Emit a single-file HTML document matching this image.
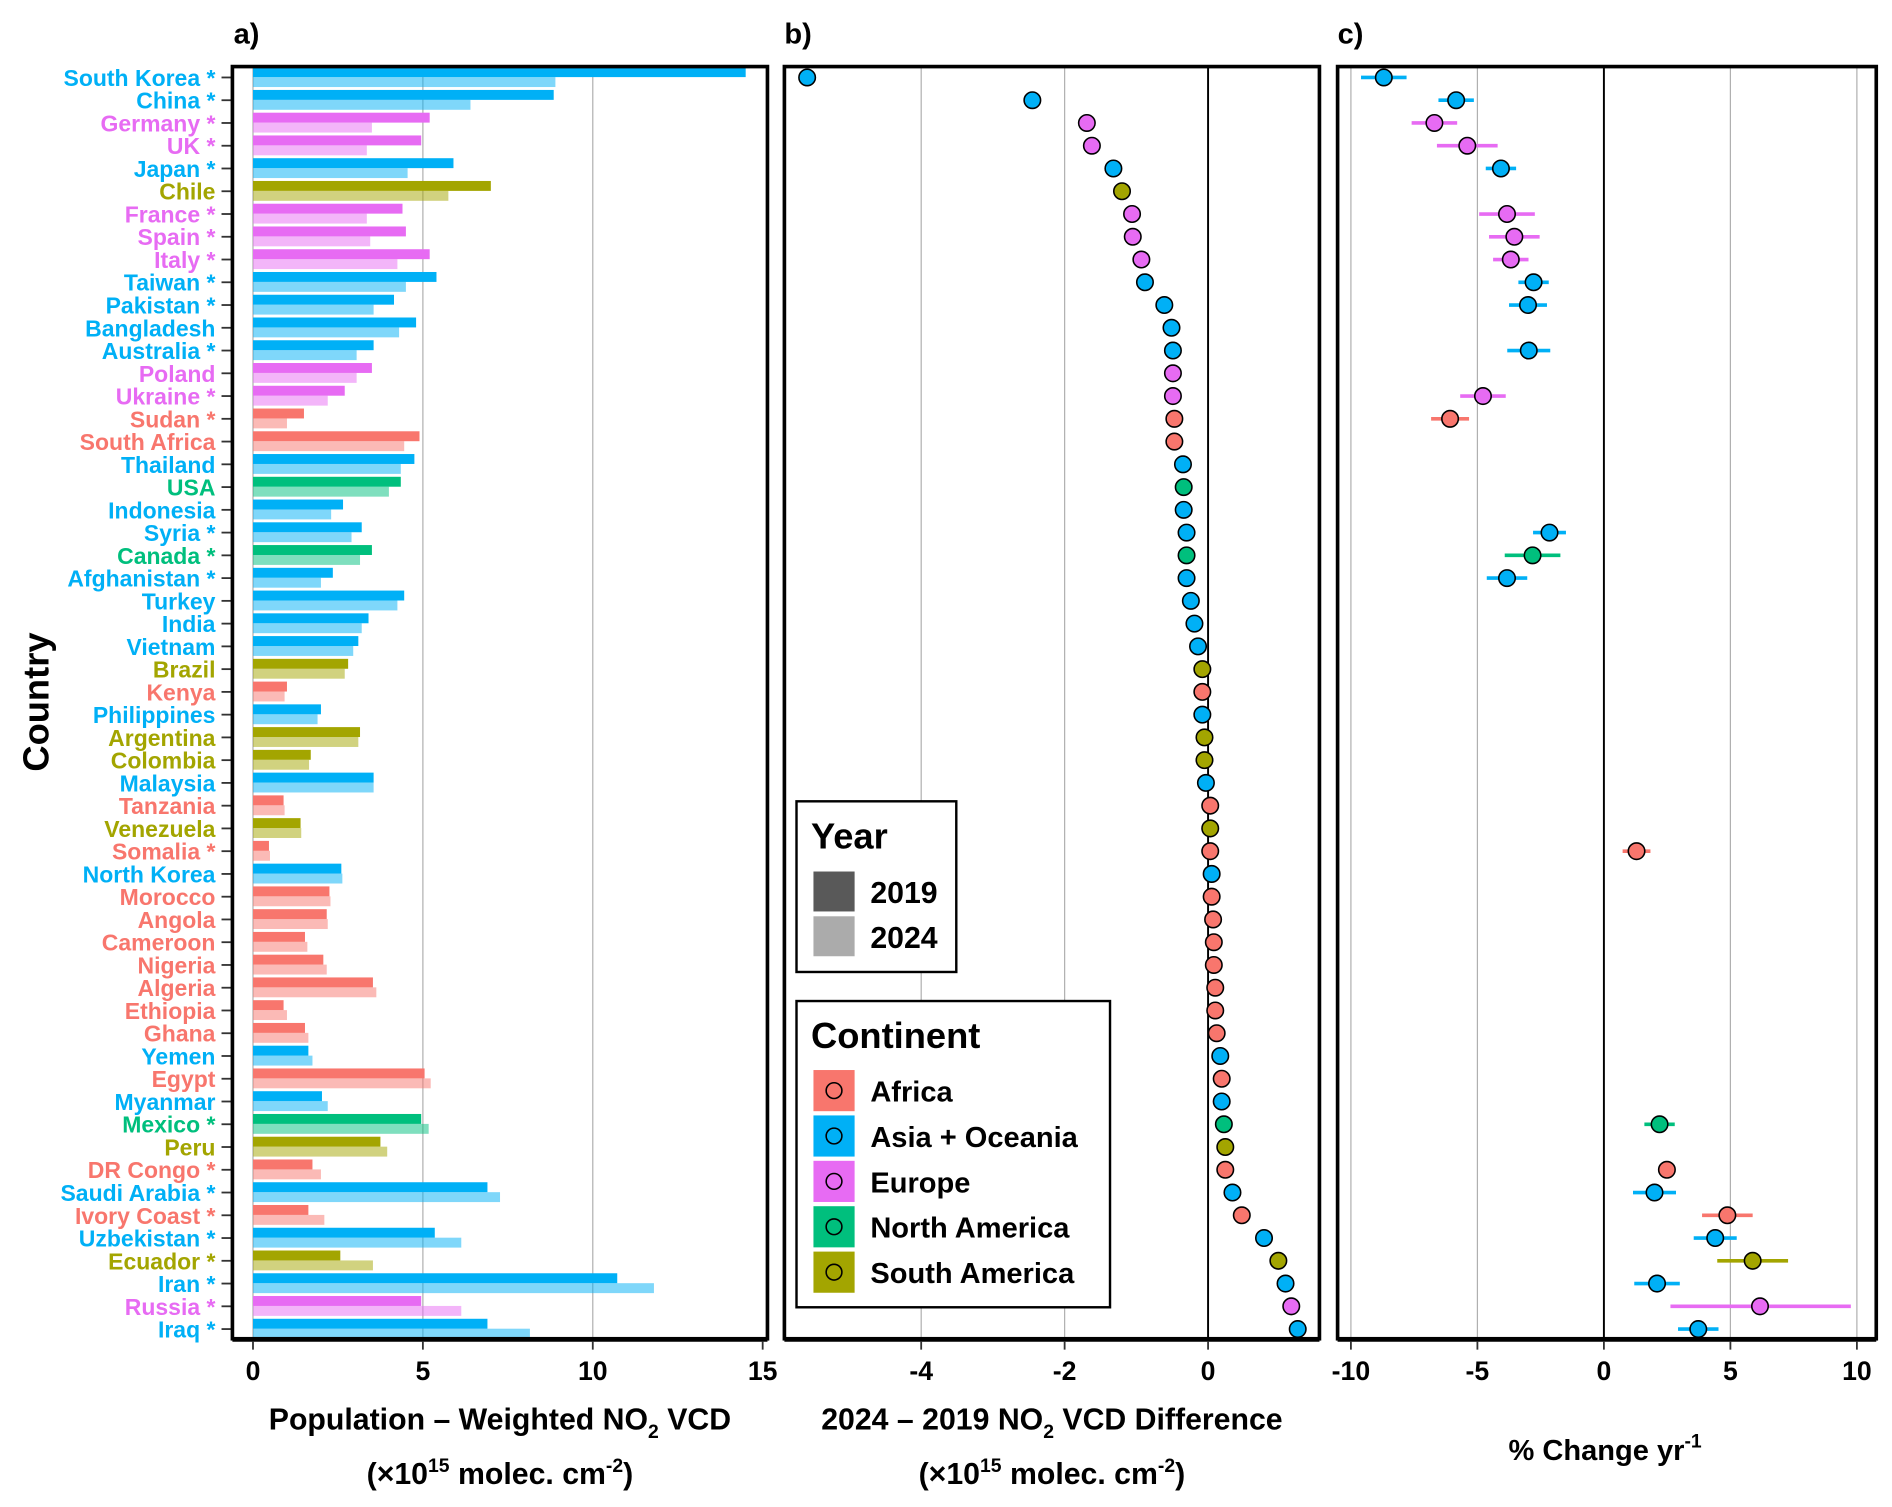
<!DOCTYPE html>
<html><head><meta charset="utf-8">
<style>
html,body{margin:0;padding:0;background:#fff;}
svg{display:block;font-family:"Liberation Sans",Arial,sans-serif;}
</style></head>
<body>
<svg id="chart" width="1892" height="1507" viewBox="0 0 1563 1245" preserveAspectRatio="none" xmlns="http://www.w3.org/2000/svg">
</svg>
<script>
const countries=["South Korea *","China *","Germany *","UK *","Japan *","Chile","France *","Spain *","Italy *","Taiwan *","Pakistan *","Bangladesh","Australia *","Poland","Ukraine *","Sudan *","South Africa","Thailand","USA","Indonesia","Syria *","Canada *","Afghanistan *","Turkey","India","Vietnam","Brazil","Kenya","Philippines","Argentina","Colombia","Malaysia","Tanzania","Venezuela","Somalia *","North Korea","Morocco","Angola","Cameroon","Nigeria","Algeria","Ethiopia","Ghana","Yemen","Egypt","Myanmar","Mexico *","Peru","DR Congo *","Saudi Arabia *","Ivory Coast *","Uzbekistan *","Ecuador *","Iran *","Russia *","Iraq *"];
const continents=["AS","AS","EU","EU","AS","SA","EU","EU","EU","AS","AS","AS","AS","EU","EU","AF","AF","AS","NA","AS","AS","NA","AS","AS","AS","AS","SA","AF","AS","SA","SA","AS","AF","SA","AF","AS","AF","AF","AF","AF","AF","AF","AF","AS","AF","AS","NA","SA","AF","AS","AF","AS","SA","AS","EU","AS"];
const vcd2019=[14.5,8.85,5.2,4.95,5.9,7.0,4.4,4.5,5.2,5.4,4.15,4.8,3.55,3.5,2.7,1.5,4.9,4.75,4.35,2.65,3.2,3.5,2.35,4.45,3.4,3.1,2.8,1.0,2.0,3.15,1.7,3.55,0.9,1.4,0.47,2.6,2.25,2.17,1.53,2.07,3.53,0.9,1.53,1.63,5.05,2.03,4.95,3.75,1.75,6.9,1.63,5.35,2.57,10.72,4.95,6.9];
const vcd2024=[8.9,6.4,3.5,3.35,4.55,5.75,3.35,3.45,4.25,4.5,3.55,4.3,3.05,3.05,2.2,1.0,4.45,4.35,4.0,2.3,2.9,3.15,2.0,4.25,3.2,2.95,2.7,0.93,1.9,3.1,1.65,3.55,0.93,1.42,0.5,2.63,2.28,2.2,1.6,2.17,3.63,1.0,1.63,1.75,5.23,2.2,5.17,3.95,2.0,7.27,2.1,6.13,3.53,11.8,6.13,8.15];
const diff=[-5.59,-2.45,-1.69,-1.62,-1.32,-1.2,-1.06,-1.05,-0.93,-0.88,-0.61,-0.51,-0.49,-0.49,-0.49,-0.47,-0.47,-0.35,-0.34,-0.34,-0.3,-0.3,-0.3,-0.24,-0.19,-0.14,-0.08,-0.08,-0.08,-0.05,-0.05,-0.03,0.03,0.03,0.03,0.05,0.05,0.07,0.08,0.08,0.1,0.1,0.12,0.17,0.19,0.19,0.22,0.24,0.24,0.34,0.47,0.78,0.98,1.08,1.16,1.25];
const pct=[-8.7,-5.84,-6.7,-5.4,-4.07,null,-3.83,-3.54,-3.68,-2.78,-3.0,null,-2.97,null,-4.78,-6.08,null,null,null,null,-2.15,-2.82,-3.83,null,null,null,null,null,null,null,null,null,null,null,1.29,null,null,null,null,null,null,null,null,null,null,null,2.2,null,2.49,2.0,4.88,4.4,5.88,2.1,6.17,3.73];
const pctLo=[-9.6,-6.54,-7.6,-6.6,-4.67,null,-4.93,-4.54,-4.38,-3.38,-3.75,null,-3.82,null,-5.68,-6.83,null,null,null,null,-2.8,-3.92,-4.63,null,null,null,null,null,null,null,null,null,null,null,0.74,null,null,null,null,null,null,null,null,null,null,null,1.6,null,2.29,1.15,3.88,3.55,4.48,1.2,2.63,2.93];
const pctHi=[-7.8,-5.14,-5.8,-4.2,-3.47,null,-2.73,-2.54,-2.98,-2.18,-2.25,null,-2.12,null,-3.88,-5.33,null,null,null,null,-1.5,-1.72,-3.03,null,null,null,null,null,null,null,null,null,null,null,1.84,null,null,null,null,null,null,null,null,null,null,null,2.8,null,2.69,2.85,5.88,5.25,7.28,3.0,9.76,4.53];
const ticksA=[0,5,10,15], ticksB=[-4,-2,0], ticksC=[-10,-5,0,5,10];

const COL={AF:"#F8766D",AS:"#00B0F6",EU:"#E76BF3",NA:"#00BF7D",SA:"#A3A500"};
const svg=document.getElementById('chart');
const NS="http://www.w3.org/2000/svg";
function mk(tag,attrs,parent){const e=document.createElementNS(NS,tag);for(const k in attrs)e.setAttribute(k,attrs[k]);(parent||svg).appendChild(e);return e;}
const yRow=i=>64+i*(1098-64)/55;
const xA=v=>209+v*28.07, xB=v=>998+v*59.25, xC=v=>1325+v*20.9;
const TOP=55,BOT=1106;

ticksA.forEach(t=>{if(t>0&&t<15){const l=mk('line',{x1:xA(t),x2:xA(t),y1:TOP,y2:BOT,stroke:"#b0b0b0","stroke-width":1});

}});
ticksB.forEach(t=>{const l=mk('line',{x1:xB(t),x2:xB(t),y1:TOP,y2:BOT,stroke:t===0?"#000":"#b0b0b0","stroke-width":t===0?1.6:1});

});
ticksC.forEach(t=>{const l=mk('line',{x1:xC(t),x2:xC(t),y1:TOP,y2:BOT,stroke:t===0?"#000":"#b0b0b0","stroke-width":t===0?1.6:1});

});
mk('line',{x1:xA(0),x2:xA(0),y1:TOP,y2:BOT,stroke:"#b0b0b0","stroke-width":1});

countries.forEach((c,i)=>{
  const y=yRow(i),col=COL[continents[i]];
  const b1=mk('rect',{x:xA(0),y:y-8.5,width:xA(vcd2019[i])-xA(0),height:8.2,fill:col});
  
  
  const b2=mk('rect',{x:xA(0),y:y-0.3,width:xA(vcd2024[i])-xA(0),height:8.2,fill:col,"fill-opacity":0.5});
  
  
  const t=mk('text',{x:178,y:y+7,"text-anchor":"end","font-size":19,"font-weight":"bold",fill:col});
  t.textContent=c;
  
  
  mk('line',{x1:183,x2:192,y1:y,y2:y,stroke:"#333","stroke-width":1.5});
  const p=mk('circle',{cx:xB(diff[i]),cy:y,r:6.8,fill:col,stroke:"#000","stroke-width":1.3});
  
  
  if(pct[i]!==null){
    const e=mk('line',{x1:xC(pctLo[i]),x2:xC(pctHi[i]),y1:y,y2:y,stroke:col,"stroke-width":3});
    
    
    const q=mk('circle',{cx:xC(pct[i]),cy:y,r:6.8,fill:col,stroke:"#000","stroke-width":1.3});
    
    
  }
});

[[192,634,'panel-a-frame'],[648,1090,'panel-b-frame'],[1105,1550,'panel-c-frame']].forEach(([l,r,n])=>{
  const b=mk('rect',{x:l,y:TOP,width:r-l,height:BOT-TOP,fill:"none",stroke:"#000","stroke-width":3});
  
  
  mk('line',{x1:l,x2:r,y1:BOT+1,y2:BOT+1,stroke:"#000","stroke-width":3});
});

function tickLabels(arr,fx,name){arr.forEach(t=>{
  mk('line',{x1:fx(t),x2:fx(t),y1:BOT+2,y2:BOT+9,stroke:"#333","stroke-width":1.5});
  const tx=mk('text',{x:fx(t),y:1140,"text-anchor":"middle","font-size":22,"font-weight":"bold",fill:"#000"});
  tx.textContent=String(t);
  
  
});}
tickLabels(ticksA,xA,'x-tick-a');tickLabels(ticksB,xB,'x-tick-b');tickLabels(ticksC,xC,'x-tick-c');
</script>
<script>
(function(){
const svg=document.getElementById('chart');
svg.insertAdjacentHTML('beforeend',`
<text x="193" y="36" font-size="24" font-weight="bold">a)</text>
<text x="648" y="36" font-size="24" font-weight="bold">b)</text>
<text x="1105" y="36" font-size="24" font-weight="bold">c)</text>
<text transform="translate(40,580) rotate(-90)" text-anchor="middle" font-size="30" font-weight="bold">Country</text>
<text x="413" y="1181" text-anchor="middle" font-size="25" font-weight="bold">Population – Weighted NO<tspan font-size="16" dy="7">2</tspan><tspan dy="-7"> VCD</tspan></text>
<text x="413" y="1226" text-anchor="middle" font-size="25" font-weight="bold">(×10<tspan font-size="16" dy="-10">15</tspan><tspan dy="10"> molec. cm</tspan><tspan font-size="16" dy="-10">-2</tspan><tspan dy="10">)</tspan></text>
<text x="869" y="1181" text-anchor="middle" font-size="25" font-weight="bold">2024 – 2019 NO<tspan font-size="16" dy="7">2</tspan><tspan dy="-7"> VCD Difference</tspan></text>
<text x="869" y="1226" text-anchor="middle" font-size="25" font-weight="bold">(×10<tspan font-size="16" dy="-10">15</tspan><tspan dy="10"> molec. cm</tspan><tspan font-size="16" dy="-10">-2</tspan><tspan dy="10">)</tspan></text>
<text x="1326" y="1206" text-anchor="middle" font-size="24" font-weight="bold">% Change yr<tspan font-size="16" dy="-10">-1</tspan></text>
<g>
<rect x="658" y="662" width="132" height="141" fill="#fff" stroke="#000" stroke-width="2"/>
<text x="670" y="701" font-size="30" font-weight="bold">Year</text>
<rect x="672" y="720" width="34" height="33" fill="#595959"/>
<rect x="672" y="757" width="34" height="33" fill="#ababab"/>
<text x="719" y="746" font-size="25" font-weight="bold">2019</text>
<text x="719" y="783" font-size="25" font-weight="bold">2024</text>
</g>
<g>
<rect x="658" y="827" width="259" height="253" fill="#fff" stroke="#000" stroke-width="2"/>
<text x="670" y="866" font-size="30" font-weight="bold">Continent</text>
</g>`);
const items=[["Africa","#F8766D"],["Asia + Oceania","#00B0F6"],["Europe","#E76BF3"],["North America","#00BF7D"],["South America","#A3A500"]];
const g=svg.lastElementChild;
items.forEach(([n,c],i)=>{
  const y=884+i*37.5;
  g.insertAdjacentHTML('beforeend',`<rect x="672" y="${y}" width="34" height="34" fill="${c}"/><circle cx="689" cy="${y+17}" r="6.5" fill="none" stroke="#000" stroke-width="1.3"/><text x="719" y="${y+26}" font-size="24" font-weight="bold">${n}</text>`);
});
})();
</script>
</body></html>
